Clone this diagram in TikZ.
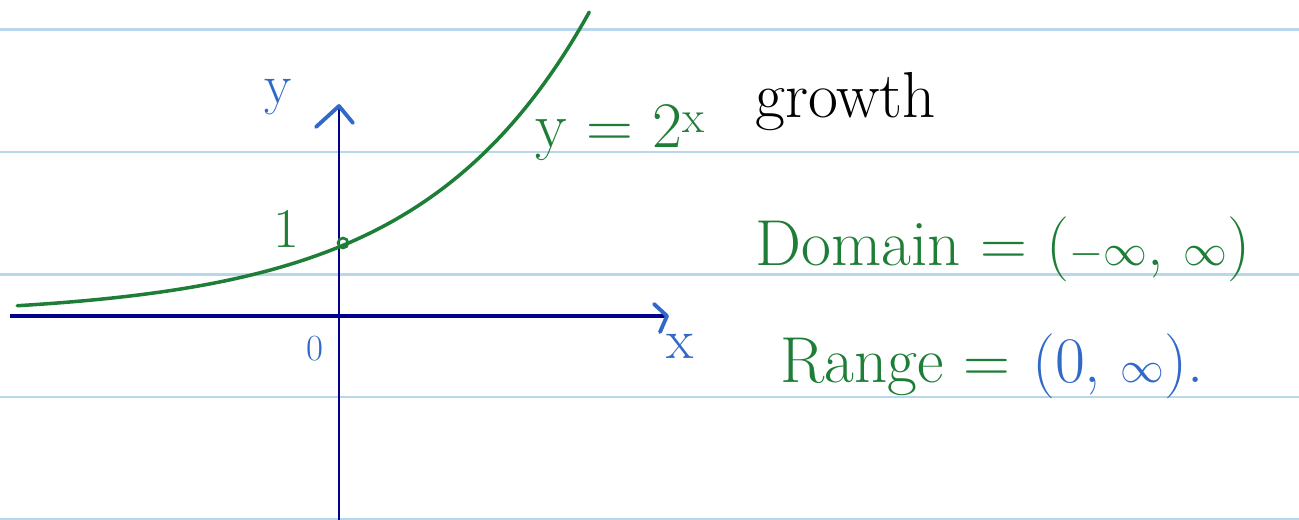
\documentclass[tikz,border=0pt]{standalone}
\usepackage{xcolor}
\usepackage{tikz}
\usetikzlibrary{arrows.meta, positioning}
\definecolor{inkgreen}{RGB}{30, 125, 55}
\definecolor{inkblue}{RGB}{50, 105, 200}
\definecolor{axisnavy}{RGB}{0, 0, 140}
\definecolor{ruleblue}{RGB}{185, 215, 235}

\begin{document}
\begin{tikzpicture}[x=0.02cm, y=-0.02cm,
    ruled/.style={ruleblue, line width=1.4pt},
    axis/.style={axisnavy, line width=2pt},
    tipmark/.style={inkblue, line width=2.2pt, line cap=round, line join=round},
    curve/.style={inkgreen, line width=2pt, line cap=round},
    hand/.style={font=\fontsize{37}{40}\selectfont, inner sep=0pt},
    small/.style={font=\fontsize{32}{36}\selectfont, inner sep=0pt}
]
  \useasboundingbox (0,0) rectangle (1299,520);

  % Ruled paper
  \foreach \r in {29.5, 152, 274.5, 397, 519} {
    \draw[ruled] (0,\r) -- (1299,\r);
  }

  % Axes
  \coordinate (origin) at (339,316);
  \coordinate (xend) at (667,316);
  \coordinate (yend) at (339,106);
  \draw[axis] (10,316) -- (xend);
  \draw[axis, line width=1.5pt] (339,520) -- (yend);

  % Arrow tips
  \draw[tipmark] (316,127) -- (yend) -- (353,123);
  \draw[tipmark] (654,304) -- (xend) -- (660,332);

  % Axis labels
  \node[small, text=inkblue] (ylab) at (278,97) {y};
  \node[small, text=inkblue] (xlab) at (680,346) {x};
  \node[font=\fontsize{21}{24}\selectfont, text=inkblue, inner sep=0pt] (zero) at (315,349) {0};
  \node[small, text=inkgreen] (one) at (286,229) {1};

  % y = 2^x
  \draw[curve] plot[domain=-2.75:2.14, samples=90, smooth]
    ({339+117*\x}, {316-69*exp(0.693147*\x)});
  \draw[curve, line width=1.5pt] (343,243) circle (5);

  % Notes
  \node[hand, text=inkgreen, anchor=base west] (eqn) at (535,148) {y = 2\textsuperscript{x}};
  \node[hand, text=black, anchor=base west] (growth) at (755,118) {growth};
  \node[hand, text=inkgreen, anchor=base west] (domain) at (755,266)
    {Domain = ($-\infty$, $\infty$)};
  \node[hand, text=inkgreen, anchor=base west] (range) at (780,382) {Range =};
  \node[hand, text=inkblue, base right=12pt of range] (rangeval) {(0, $\infty$).};
\end{tikzpicture}
\end{document}
